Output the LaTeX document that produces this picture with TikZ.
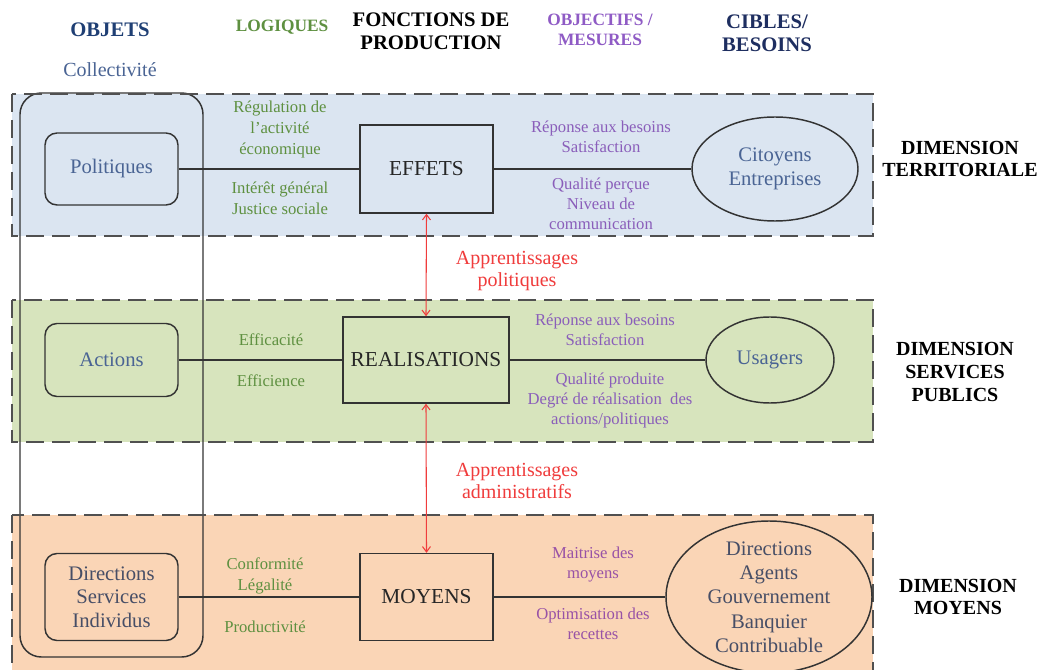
\documentclass[tikz,border=0pt]{standalone}
\usepackage{fontspec}
\setmainfont{Liberation Serif}
\usetikzlibrary{shapes.geometric,arrows.meta}
\definecolor{bandblue}{HTML}{DBE5F1}
\definecolor{bandgreen}{HTML}{D7E4BD}
\definecolor{bandorange}{HTML}{FAD5B6}
\definecolor{dashgray}{HTML}{505050}
\definecolor{objblue}{HTML}{1F3F74}
\definecolor{txtblue}{HTML}{4A6494}
\definecolor{txtgray}{HTML}{474E66}
\definecolor{logigreen}{HTML}{5E9040}
\definecolor{objpurple}{HTML}{8F5BC5}
\definecolor{mespurple}{HTML}{8A5EBA}
\definecolor{mesmagenta}{HTML}{9852A6}
\definecolor{cibnavy}{HTML}{1E2E60}
\definecolor{apred}{HTML}{F03C3C}
\definecolor{boxline}{HTML}{333333}
\tikzset{
  band/.style={draw=dashgray, line width=1.6pt, dash pattern=on 13.5pt off 6pt},
  objbox/.style={draw=boxline, line width=1.1pt, rounded corners=9pt, minimum width=99.75pt,
    inner sep=0pt, align=center, font=\fontsize{15.5}{17.6}\selectfont, text=txtblue},
  funcbox/.style={draw=boxline, line width=1.1pt, minimum width=99.75pt, minimum height=66pt,
    inner sep=0pt, font=\fontsize{16}{18}\selectfont, text=black!85},
  cible/.style={ellipse, draw=boxline, line width=1.1pt, inner sep=0pt, align=center,
    font=\fontsize{15.5}{18}\selectfont, text=txtblue},
  logi/.style={text=logigreen, align=center, font=\fontsize{12.5}{15.5}\selectfont, inner sep=0pt},
  mes/.style={text=mespurple, align=center, font=\fontsize{12.5}{15}\selectfont, inner sep=0pt},
  head/.style={font=\bfseries\fontsize{15.5}{17}\selectfont, align=center, inner sep=0pt},
  dim/.style={font=\bfseries\fontsize{15}{17}\selectfont, align=center, inner sep=0pt},
  appr/.style={text=apred, align=center, font=\fontsize{15}{17}\selectfont, inner sep=0pt},
  link/.style={draw=boxline, line width=1.1pt},
  apparrow/.style={draw=apred, line width=0.8pt,
    {Straight Barb[length=4pt,width=6pt]}-{Straight Barb[length=4pt,width=6pt]}}
}
\begin{document}
\begin{tikzpicture}[x=0.75pt, y=-0.75pt]
\clip (0,0) rectangle (1043,670);
\fill[white] (0,0) rectangle (1043,670);
% bands
\fill[bandblue] (12,94) rectangle (873,236);
\fill[bandgreen] (12,300) rectangle (873,442);
\fill[bandorange] (12,515) rectangle (873,700);
% collectivite frame
\draw[draw=boxline, line width=1.1pt, rounded corners=16pt] (20,93) rectangle (203,657);
\draw[band] (12,94) rectangle (873,236);
\draw[band] (12,300) rectangle (873,442);
\draw[band] (12,515) rectangle (873,700);

% headers
\node[head, text=objblue] (hObj) at (110,30) {OBJETS};
\node[inner sep=0pt, font=\fontsize{15}{16}\selectfont, text=txtblue] (hColl) at (110,70) {Collectivité};
\node[head, text=logigreen, font=\bfseries\fontsize{13}{14}\selectfont] (hLog) at (282,27) {LOGIQUES};
\node[head] (hFon) at (431,31) {FONCTIONS DE\\PRODUCTION};
\node[head, text=objpurple, font=\bfseries\fontsize{13}{15}\selectfont] (hMes) at (600,30) {OBJECTIFS /\\MESURES};
\node[head, text=cibnavy] (hCib) at (767,33) {CIBLES/\\BESOINS};

% objects
\node[objbox, minimum height=54pt] (pol) at (111.5,169) {Politiques};
\node[objbox, minimum height=54.75pt] (act) at (111.5,360) {Actions};
\node[objbox, minimum height=65.25pt, text=txtgray] (dir) at (111.5,597) {Directions\\Services\\Individus};

% functions
\node[funcbox] (eff) at (426.5,169) {EFFETS};
\node[funcbox, minimum width=124.5pt, minimum height=64.5pt] (real) at (426,360) {REALISATIONS};
\node[funcbox, minimum height=65.25pt] (moy) at (426.5,597) {MOYENS};

% targets
\node[cible, minimum width=124.5pt, minimum height=78pt] (cit) at (775,169) {Citoyens\\Entreprises};
\node[cible, minimum width=96pt, minimum height=64.5pt] (usa) at (770,360) {Usagers};
\node[cible, minimum width=154.5pt, minimum height=114pt] (dgb) at (769,597) {};
\node[inner sep=0pt, align=center, font=\fontsize{15.5}{18.2}\selectfont, text=txtgray] (dgbt) at (dgb.center)
  {Directions\\Agents\\Gouvernement\\Banquier\\Contribuable};

% connectors
\draw[link] (pol) -- (eff);
\draw[link] (eff) -- (cit);
\draw[link] (act) -- (real);
\draw[link] (real) -- (usa);
\draw[link] (dir) -- (moy);
\draw[link] (moy) -- (dgb);
\draw[apparrow] (eff.south) -- (real.north);
\draw[apparrow] (real.south) -- (moy.north);

% logiques
\node[logi] (l1) at (280,129.5) {Régulation de\\l’activité\\économique};
\node[logi] (l2) at (280,198) {Intérêt général\\Justice sociale};
\node[logi] (l3) at (271,340) {Efficacité};
\node[logi] (l4) at (271,381) {Efficience};
\node[logi] (l5) at (265,576) {Conformité\\Légalité};
\node[logi] (l6) at (265,627) {Productivité};

% mesures
\node[mes] (m1) at (601,137) {Réponse aux besoins\\Satisfaction};
\node[mes] (m2) at (601,204) {Qualité perçue\\Niveau de\\communication};
\node[mes] (m3) at (605,330) {Réponse aux besoins\\Satisfaction};
\node[mes] (m4) at (610,400) {Qualité produite\\Degré de réalisation\ \ des\\actions/politiques};
\node[mes, text=mesmagenta] (m5) at (593,565) {Maitrise des\\moyens};
\node[mes, text=mesmagenta] (m6) at (593,624) {Optimisation des\\recettes};

% apprentissages
\node[appr] (ap1) at (517,271) {Apprentissages\\politiques};
\node[appr] (ap2) at (517,481) {Apprentissages\\administratifs};

% dimensions
\node[dim] (d1) at (960,159) {DIMENSION\\TERRITORIALE};
\node[dim] (d2) at (955,372) {DIMENSION\\SERVICES\\PUBLICS};
\node[dim] (d3) at (958,597) {DIMENSION\\MOYENS};
\end{tikzpicture}
\end{document}
